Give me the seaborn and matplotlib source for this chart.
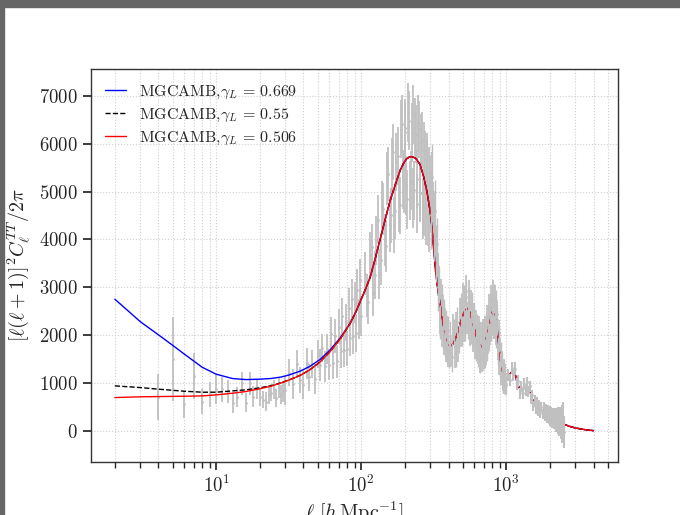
import matplotlib

matplotlib.use("Agg")

import matplotlib.pyplot as plt
import seaborn as sns
from matplotlib.patches import Rectangle

# theory curves
ELL_TH = [2, 3, 4, 5, 6, 8, 10, 13, 16, 20, 24, 28, 32, 38, 44, 52, 61, 72,
          84, 92, 100, 107, 115, 125, 135, 145, 158, 170, 186, 196, 205, 213, 222, 232,
          240, 255, 262, 270, 277, 284, 292, 300, 308, 315, 324, 333, 342, 350, 360,
          370, 380, 390, 400, 411, 420, 430, 440, 450, 460, 469, 485, 500, 518, 535,
          548, 560, 578, 595, 615, 635, 658, 680, 700, 720, 740, 760, 780, 800, 815,
          830, 845, 860, 885, 910, 935, 960, 985, 1010, 1040, 1070, 1100, 1123, 1150,
          1180, 1215, 1250, 1285, 1320, 1360, 1400, 1430, 1460, 1500, 1543, 1580, 1620,
          1660, 1713, 1800, 1905, 2000, 2117, 2250, 2354, 2500, 2700, 3000, 3500, 4000]
D_COMMON = [2250, 2490, 2750, 2960, 3200, 3600, 4000, 4370, 4800, 5100, 5450, 5590,
            5680, 5715, 5730, 5710, 5680, 5560, 5440, 5300, 5150, 5000, 4780, 4550,
            4230, 3850, 3450, 3100, 2850, 2650, 2400, 2180, 2030, 1900, 1810, 1770,
            1785, 1820, 1880, 1950, 2030, 2110, 2270, 2400, 2510, 2560, 2545, 2480,
            2340, 2200, 2030, 1900, 1790, 1760, 1790, 1850, 2030, 2200, 2360, 2480,
            2500, 2500, 2400, 2250, 1830, 1500, 1280, 1150, 1075, 1060, 1120, 1200,
            1245, 1260, 1200, 1050, 940, 860, 850, 870, 920, 930, 900, 820, 700, 600,
            550, 520, 495, 450, 410, 360, 310, 260, 215, 180, 140, 100, 60, 25, 5]
D_BLUE = [2752, 2280, 2006, 1790, 1609, 1330, 1184, 1093, 1072, 1080, 1095, 1125,
          1170, 1250, 1344, 1490, 1690, 1950] + D_COMMON
D_BLACK = [940, 905, 871, 848, 829, 808, 808, 836, 857, 900, 945, 1005, 1068, 1161,
           1271, 1440, 1657, 1930] + D_COMMON
D_RED = [696, 712, 717, 721, 724, 731, 752, 787, 822, 880, 935, 1000, 1066, 1160,
         1270, 1440, 1657, 1930] + D_COMMON

# measured spectrum with error bars
ELL_FILL = list(range(109, 398, 6)) + list(range(418, 995, 12))
ELL_DATA = (list(range(4, 30))
            + list(range(30, 101, 2))
            + list(range(106, 401, 6))
            + list(range(109, 398, 6))
            + list(range(412, 1001, 12))
            + list(range(418, 995, 12))
            + list(range(1030, 2501, 30)))
D_DATA = [
    # 4-29
    704, 1504, 557, 1149, 613, 766, 871, 871, 822, 592, 717, 996, 592, 996, 717, 871,
    700, 650, 610, 760, 800, 870, 680, 900, 760, 830,
    # 30-100
    850, 1216, 975, 1390, 1070, 965, 1412, 1120, 1400, 1090, 1605, 1380, 1730, 1350,
    1710, 1385, 2030, 1410, 1980, 1450, 2180, 1670, 2405, 1690, 2270, 1720, 2575, 1950,
    2760, 1990, 2680, 2040, 2950, 2335, 3160, 2400,
    # 106-400
    3280, 2690, 3840, 3260, 4410, 3560, 4640, 3860, 5370, 4500, 5830, 4590, 5740, 4710,
    6410, 5170, 6250, 4840, 6480, 5230, 6605, 5025, 6205, 4750, 6300, 4980, 6080, 4590,
    5690, 4460, 5510, 4280, 5220, 4500, 5300, 4200, 4600, 3700, 3900, 3000, 3050, 2280,
    2730, 2050, 2430, 1850, 2230, 1700, 2100, 1600,
    # 109-397
    2820, 3665, 2890, 3980, 3270, 4670, 3990, 5275, 4310, 5530, 4300, 5620, 4750, 6310,
    5250, 6320, 5120, 6655, 5025, 6228, 4865, 6345, 5268, 6425, 4970, 6040, 4685, 5870,
    4645, 5665, 4415, 5390, 4785, 5135, 4555, 4370, 3915, 3635, 3275, 3050, 2400, 2815,
    2100, 2505, 1895, 2265, 1740, 2100, 1635,
    # 412-1000
    1990, 1540, 2040, 1640, 2280, 1930, 2560, 2090, 2710, 2200, 2795, 2250, 2700, 2140,
    2580, 2000, 2360, 1770, 2150, 1640, 2010, 1510, 1980, 1565, 2030, 1620, 2150, 1760,
    2350, 1960, 2580, 2170, 2760, 2240, 2760, 2250, 2640, 2020, 2320, 1660, 1930, 1360,
    1610, 1150, 1390, 1020, 1260, 960, 1190, 950,
    # 418-994
    1635, 2150, 1620, 2185, 1750, 2475, 2065, 2760, 2185, 2918, 2353, 2825, 2110, 2620,
    1970, 2370, 1810, 2220, 1705, 2090, 1510, 1985, 1523, 2038, 1600, 2090, 1680, 2325,
    1910, 2550, 2085, 2745, 2275, 2845, 2210, 2740, 2090, 2450, 1780, 2040, 1440, 1675,
    1215, 1425, 1060, 1275, 985, 1190, 965,
    # 1030-2500
    1170, 1060, 1310, 1170, 1300, 980, 1040, 785, 925, 790, 980, 840, 1015, 820, 930,
    685, 740, 520, 635, 460, 595, 430, 540, 375, 500, 355, 480, 320, 440, 290, 415, 265,
    385, 230, 365, 205, 332, 175, 318, 143, 308, 120, 300, 90, 290, 52, 294, 15, 298, -20,
]
ERR_DATA = [
    # 4-29
    476, 870, 278, 480, 270, 260, 300, 260, 240, 210, 210, 240, 190, 240, 220, 200,
    190, 180, 200, 190, 180, 200, 190, 210, 200, 220,
    # 30-100
    300, 280, 310, 290, 270, 300, 320, 280, 300, 310, 290, 330, 300, 320, 310,
    330, 350, 320, 360, 340, 370, 350, 380, 360, 390, 370, 400, 380, 410, 390, 420, 400,
    430, 410, 440, 420,
    # 106-400
    450, 460, 480, 500, 510, 520, 540, 550, 560, 570, 580, 590, 600, 600, 610, 610, 620,
    620, 620, 620, 620, 620, 610, 610, 600, 600, 590, 590, 580, 570, 560, 550, 540, 700,
    700, 650, 650, 600, 550, 500, 380, 360, 340, 330, 320, 310, 300, 300, 290, 290,
    # 109-397
    450, 480, 500, 510, 520, 540, 550, 560, 570, 580, 590, 600, 600, 610, 610, 620, 620,
    620, 620, 620, 620, 610, 610, 600, 600, 590, 590, 580, 570, 560, 550, 540, 650, 700,
    650, 650, 600, 550, 450, 400, 370, 350, 340, 330, 320, 310, 300, 300, 290,
    # 412-1000
    300, 300, 300, 300, 310, 310, 320, 320, 330, 330, 330, 330, 330, 320, 320, 310, 310,
    300, 300, 300, 300, 300, 300, 300, 300, 300, 300, 300, 300, 300, 300, 300, 300, 300,
    300, 300, 300, 290, 290, 280, 270, 260, 250, 240, 230, 220, 210, 200, 190, 180,
    # 418-994
    300, 300, 300, 300, 310, 310, 320, 320, 330, 330, 330, 330, 330, 320, 320, 310, 310,
    300, 300, 300, 300, 300, 300, 300, 300, 300, 300, 300, 300, 300, 300, 300, 300, 300,
    300, 300, 300, 290, 290, 280, 270, 260, 250, 240, 230, 220, 210, 200, 190,
    # 1030-2500
    130, 130, 130, 130, 130, 125, 125, 120, 120, 120, 120, 120, 120, 115, 115, 115, 110,
    110, 110, 110, 110, 110, 110, 110, 110, 110, 115, 115, 115, 120, 120, 120, 125, 125,
    130, 135, 140, 145, 150, 160, 170, 180, 190, 200, 215, 230, 250, 270, 300, 330,
]

LABELS = [r"MGCAMB,$\gamma_L \,=\, 0.669$", r"MGCAMB,$\gamma_L \,=\, 0.55$",
          r"MGCAMB,$\gamma_L \,=\, 0.506$"]
YTICKS = [0, 1000, 2000, 3000, 4000, 5000, 6000, 7000]
GRAY = "#c0c0c0"

sns.set_theme(style="ticks")
plt.rcParams["font.family"] = ["cmr10", "DejaVu Serif"]
plt.rcParams["mathtext.fontset"] = "cm"
plt.rcParams["axes.formatter.use_mathtext"] = True
plt.rcParams["axes.unicode_minus"] = False

fig = plt.figure(figsize=(6.8, 5.15), dpi=100)
ax = fig.add_axes([91 / 680, 53 / 515, 527 / 680, 393 / 515])
ax.set_xscale("log")

# part of the high-multipole bars sits over the curves, the rest below
fill = set(ELL_FILL)
mid = [i for i, l in enumerate(ELL_DATA) if 300 <= l < 1010 and l not in fill]
tail = [i for i, l in enumerate(ELL_DATA) if l >= 1010]
below = [i for i, l in enumerate(ELL_DATA) if l < 300 or l in fill]
for idx, z, lw in ((below, 1, 1.3), (mid, 5, 1.0), (tail, 5, 1.5)):
    ax.errorbar([ELL_DATA[i] for i in idx], [D_DATA[i] for i in idx],
                yerr=[ERR_DATA[i] for i in idx], fmt=".", ms=2, color=GRAY,
                ecolor=GRAY, elinewidth=lw, zorder=z)

sns.lineplot(x=ELL_TH, y=D_BLUE, ax=ax, color="blue", lw=1, label=LABELS[0], zorder=3)
sns.lineplot(x=ELL_TH, y=D_BLACK, ax=ax, color="black", lw=1, ls="--", label=LABELS[1],
             zorder=3)
sns.lineplot(x=ELL_TH, y=D_RED, ax=ax, color="red", lw=1, label=LABELS[2], zorder=4)

ax.set_xlim(1.37, 5900)
ax.set_ylim(-650, 7560)
ax.set_yticks(YTICKS)
ax.tick_params(labelsize=13.5)
ax.grid(True, which="major", ls=":", color="#cfcfcf", lw=0.8)
ax.grid(True, which="minor", axis="x", ls=":", color="#cfcfcf", lw=0.8)
for s in ax.spines.values():
    s.set_color("#333333")
    s.set_linewidth(1)

ax.set_xlabel(r"$\ell\ [h\,{\rm Mpc}^{-1}]$", fontsize=14.5)
ax.set_ylabel(r"$[\ell(\ell+1)]^2C_\ell^{TT}/2\pi$", fontsize=14.5)
ax.xaxis.set_label_coords(0.5, -0.095)
ax.yaxis.set_label_coords(-0.11, 0.5)

ax.legend(loc="upper left", frameon=False, fontsize=11.5, handlelength=1.3,
          handletextpad=0.8, labelspacing=0.35)

# dark frame of the screenshot
fig.patches.append(Rectangle((0, 1 - 7 / 515), 1, 7 / 515, transform=fig.transFigure,
                             color="#666666", zorder=10))
fig.patches.append(Rectangle((0, 0), 4 / 680, 1, transform=fig.transFigure,
                             color="#666666", zorder=10))

fig.savefig("out.png", dpi=100)
